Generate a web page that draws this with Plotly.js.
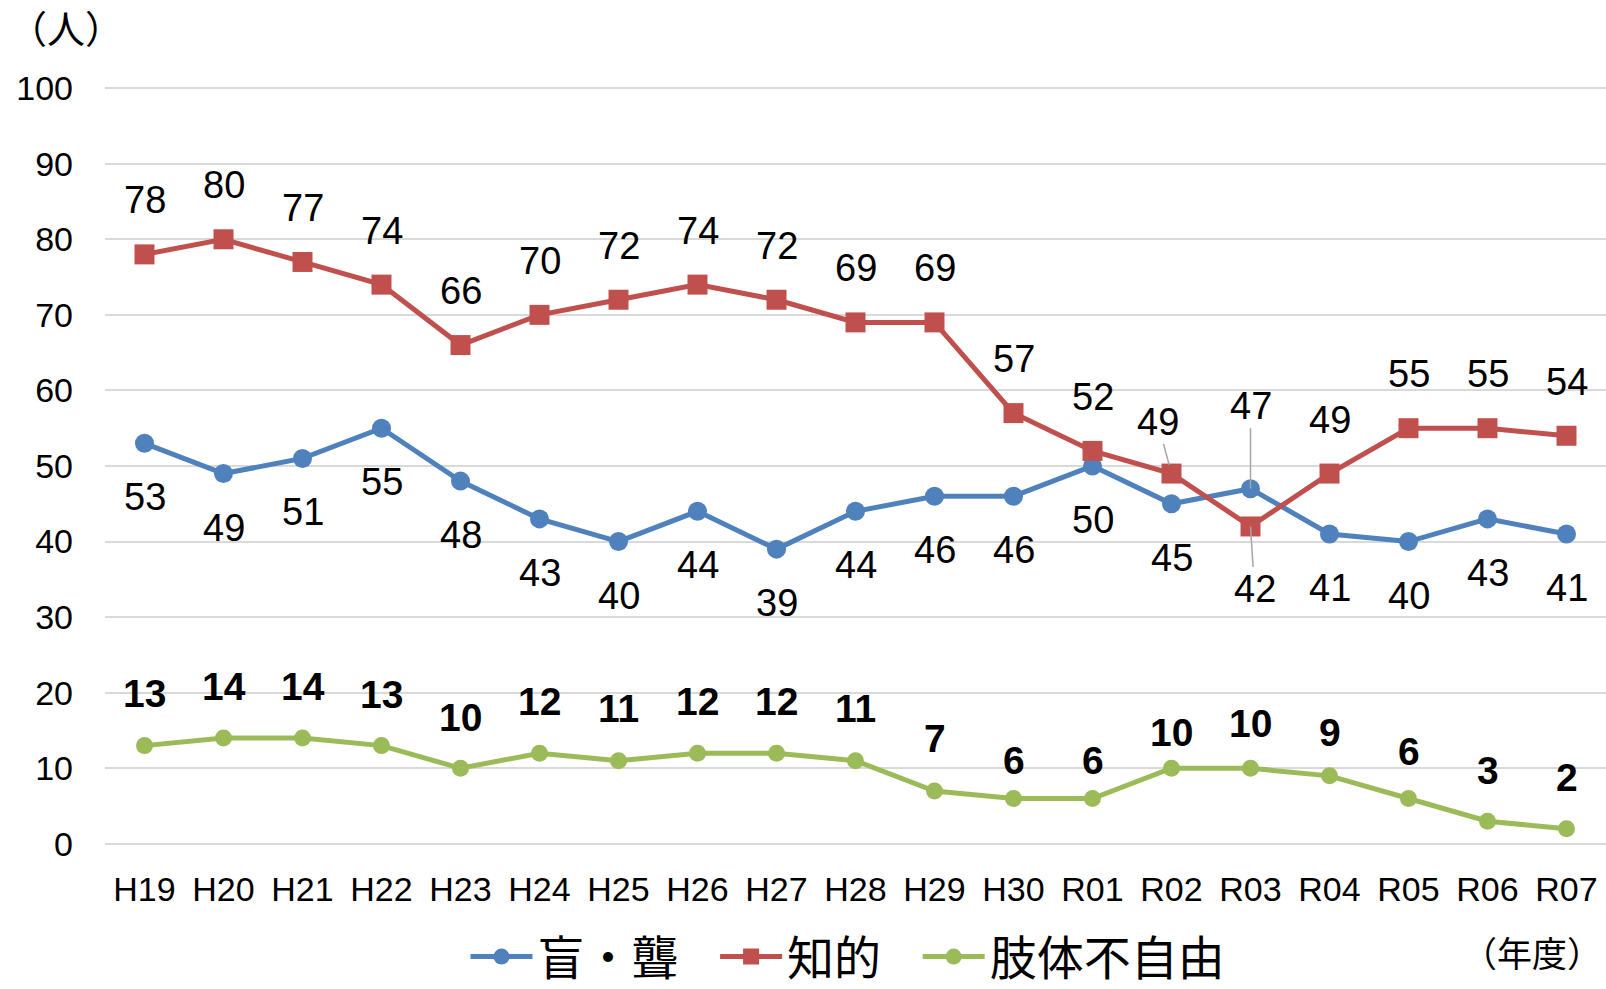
<!DOCTYPE html>
<html>
<head>
<meta charset="utf-8">
<script src="https://cdn.plot.ly/plotly-3.0.1.min.js"></script>
<style>
  html, body { margin: 0; padding: 0; background: #fff; }
  #chart { width: 1606px; height: 989px; }
</style>
</head>
<body>
<div id="chart"></div>
<script>
// ---- data ----
const categories = ['H19','H20','H21','H22','H23','H24','H25','H26','H27','H28','H29','H30','R01','R02','R03','R04','R05','R06','R07'];
const seriesNames = ['盲・聾', '知的', '肢体不自由'];
const blindDeaf = [53,49,51,55,48,43,40,44,39,44,46,46,50,45,47,41,40,43,41];
const intellectual = [78,80,77,74,66,70,72,74,72,69,69,57,52,49,42,49,55,55,54];
const physical = [13,14,14,13,10,12,11,12,12,11,7,6,6,10,10,9,6,3,2];
const yTickLabels = ['0','10','20','30','40','50','60','70','80','90','100'];
const yTickValues = [0,10,20,30,40,50,60,70,80,90,100];

// ---- layout constants (pixels) ----
const W = 1606, H = 989;
const M = { l: 105, r: 0, t: 87, b: 144, autoexpand: false };
const plotW = W - M.l - M.r, plotH = H - M.t - M.b;
const px2paperX = px => (px - M.l) / plotW;
const px2paperY = py => (H - M.b - py) / plotH;

const colors = { blue: '#4F81BD', red: '#C0504D', green: '#9BBB59' };
const numFont = 'Liberation Sans, Arial, sans-serif';
const jpFont = 'Noto Sans CJK JP, sans-serif';

// label offsets (px, positive = up)
const blueShift = categories.map(() => -54);
const redShift = categories.map(() => 54);
const greenShift = [52,52,52,51,51,52,52,52,52,52,52,38,38,36,45,43,47,51,51];

const gap = '\u00A0\u00A0\u00A0';
const traces = [
  { x: categories, y: blindDeaf, name: seriesNames[0] + gap, type: 'scatter', mode: 'lines+markers',
    line: { color: colors.blue, width: 5 }, marker: { color: colors.blue, size: 19, symbol: 'circle' } },
  { x: categories, y: intellectual, name: seriesNames[1] + gap, type: 'scatter', mode: 'lines+markers',
    line: { color: colors.red, width: 5 }, marker: { color: colors.red, size: 20, symbol: 'square' } },
  { x: categories, y: physical, name: seriesNames[2], type: 'scatter', mode: 'lines+markers',
    line: { color: colors.green, width: 5 }, marker: { color: colors.green, size: 17, symbol: 'circle' } }
];

const annotations = [];
const labelFont = { family: numFont, size: 38, color: '#000' };
const boldFont = { family: numFont, size: 39, color: '#000', weight: 'bold' };
const leader = { showarrow: true, arrowhead: 0, arrowwidth: 1.5, arrowcolor: '#A6A6A6', standoff: 0 };

categories.forEach((c, i) => {
  // blue
  if (c === 'R03') {
    annotations.push(Object.assign({ x: c, y: blindDeaf[i], text: String(blindDeaf[i]), ax: 0, ay: -83,
      font: labelFont }, leader));
  } else {
    annotations.push({ x: c, y: blindDeaf[i], text: String(blindDeaf[i]), showarrow: false,
      yshift: blueShift[i], yanchor: 'middle', font: labelFont });
  }
  // red
  if (c === 'R02') {
    annotations.push(Object.assign({ x: c, y: intellectual[i], text: String(intellectual[i]), ax: -14, ay: -52,
      font: labelFont }, leader, { standoff: 9 }));
  } else if (c === 'R03') {
    annotations.push(Object.assign({ x: c, y: intellectual[i], text: String(intellectual[i]), ax: 4, ay: 63,
      font: labelFont }, leader));
  } else {
    annotations.push({ x: c, y: intellectual[i], text: String(intellectual[i]), showarrow: false,
      yshift: redShift[i], yanchor: 'middle', font: labelFont });
  }
  // green
  annotations.push({ x: c, y: physical[i], text: '<b>' + physical[i] + '</b>', showarrow: false,
    yshift: greenShift[i], yanchor: 'middle', font: boldFont });
});

annotations.push({ xref: 'paper', yref: 'paper', x: px2paperX(66), y: px2paperY(26), text: '（人）',
  showarrow: false, xanchor: 'center', yanchor: 'middle', font: { family: jpFont, size: 38, color: '#000' } });
annotations.push({ xref: 'paper', yref: 'paper', x: px2paperX(1604), y: px2paperY(951), text: '（年度）',
  showarrow: false, xanchor: 'right', yanchor: 'middle', font: { family: jpFont, size: 35, color: '#000' } });

const layout = {
  width: W, height: H,
  margin: M,
  paper_bgcolor: '#fff', plot_bgcolor: '#fff',
  showlegend: true,
  legend: { orientation: 'h', x: px2paperX(848), xanchor: 'center', y: px2paperY(957), yanchor: 'middle',
    font: { family: jpFont, size: 47, color: '#000' }, itemwidth: 62 },
  xaxis: { type: 'category', range: [-0.5, 18.5], tickvals: categories, ticktext: categories, showgrid: false,
    zeroline: false, showline: false, ticks: '', ticklabelstandoff: 21,
    tickfont: { family: numFont, size: 34, color: '#000' }, fixedrange: true },
  yaxis: { range: [-0.15, 100.15], tickvals: yTickValues, ticktext: yTickLabels, showgrid: true, gridcolor: '#D9D9D9',
    gridwidth: 2, zeroline: false, showline: false, ticks: '', ticklabelstandoff: 31,
    tickfont: { family: numFont, size: 34, color: '#000' }, fixedrange: true },
  annotations: annotations
};

Plotly.newPlot('chart', traces, layout, { displayModeBar: false, staticPlot: true });
</script>
</body>
</html>
